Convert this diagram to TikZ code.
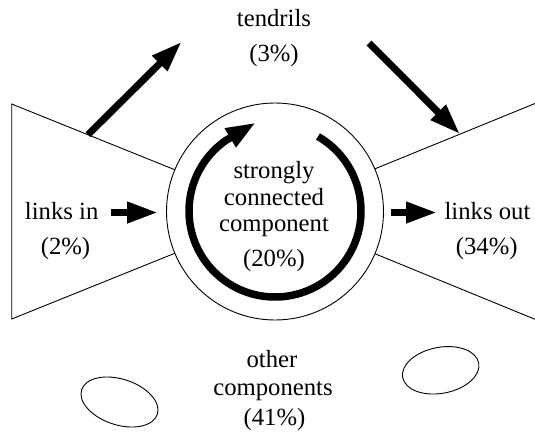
\documentclass[tikz,border=0pt]{standalone}
\usepackage{fontspec}
\setmainfont{Liberation Serif}
\usetikzlibrary{arrows.meta,shapes.geometric}
\begin{document}
\begin{tikzpicture}[x=1pt,y=1pt,
  thin line/.style={line width=0.9pt},
  bigarrow/.style={line width=7pt,-{Triangle[length=31pt,width=20pt]}},
  lbl/.style={font=\fontsize{24.7}{26}\selectfont, anchor=base, inner sep=0pt},
  blob/.style={draw, thin line, ellipse, inner sep=0pt}]
\useasboundingbox (0,0) rectangle (535,-434);
% left (in) trapezoid
\coordinate (lt) at (11.7,-104);
\coordinate (lb) at (11.7,-319);
\coordinate (lti) at (200,-179.9);
\coordinate (lbi) at (200,-243.1);
\draw[thin line] (lti) -- (lt) -- (lb) -- (lbi);
% right (out) trapezoid
\coordinate (rt) at (535,-103.5);
\coordinate (rb) at (535,-319.3);
\coordinate (rti) at (350,-179);
\coordinate (rbi) at (350,-243.5);
\draw[thin line] (rti) -- (rt);
\draw[thin line] (rbi) -- (rb);
% core
\node[draw, thin line, circle, fill=white, minimum size=217pt, inner sep=0pt] (scc) at (275,-211.5) {};
% circular arrow inside the core
\coordinate (cc) at (275,-211);
\coordinate (arctip) at (256,-122.5);
\draw[line width=7.5pt,-{Triangle[length=30pt,width=20pt]}]
  (cc) ++(60:86) arc[start angle=60, end angle=-235, radius=86] -- (arctip);
% tendril arrows
\coordinate (tlstart) at (88,-134.7);
\coordinate (tltip) at (181.7,-41.7);
\coordinate (trstart) at (369,-43);
\coordinate (trtip) at (460,-134.1);
\draw[bigarrow] (tlstart) -- (tltip);
\draw[bigarrow] (trstart) -- (trtip);
% in / out arrows
\coordinate (instart) at (111,-212.5);
\coordinate (intip) at (158,-212.5);
\coordinate (outstart) at (391,-212.5);
\coordinate (outtip) at (437,-212.5);
\draw[bigarrow] (instart) -- (intip);
\draw[bigarrow] (outstart) -- (outtip);
% other components
\node[blob, minimum width=79.6pt, minimum height=45.8pt, rotate=-18] (e1) at (119.5,-402) {};
\node[blob, minimum width=77.4pt, minimum height=46pt, rotate=10.8] (e2) at (440.7,-370.3) {};
% labels
\node[lbl] (ten1) at (274,-26.7) {tendrils};
\node[lbl] (ten2) at (274,-61.7) {(3\%)};
\node[lbl] (in1) at (61.7,-219.3) {links in};
\node[lbl] (in2) at (65.5,-254) {(2\%)};
\node[lbl] (out1) at (487.5,-219.3) {links out};
\node[lbl] (out2) at (486.7,-254) {(34\%)};
\node[lbl] (c1) at (274,-178.3) {strongly};
\node[lbl] (c2) at (274,-205) {connected};
\node[lbl] (c3) at (274,-231.7) {component};
\node[lbl] (c4) at (274,-266.7) {(20\%)};
\node[lbl] (o1) at (272,-367.3) {other};
\node[lbl] (o2) at (273,-395) {components};
\node[lbl] (o3) at (274.5,-425) {(41\%)};
\end{tikzpicture}
\end{document}
